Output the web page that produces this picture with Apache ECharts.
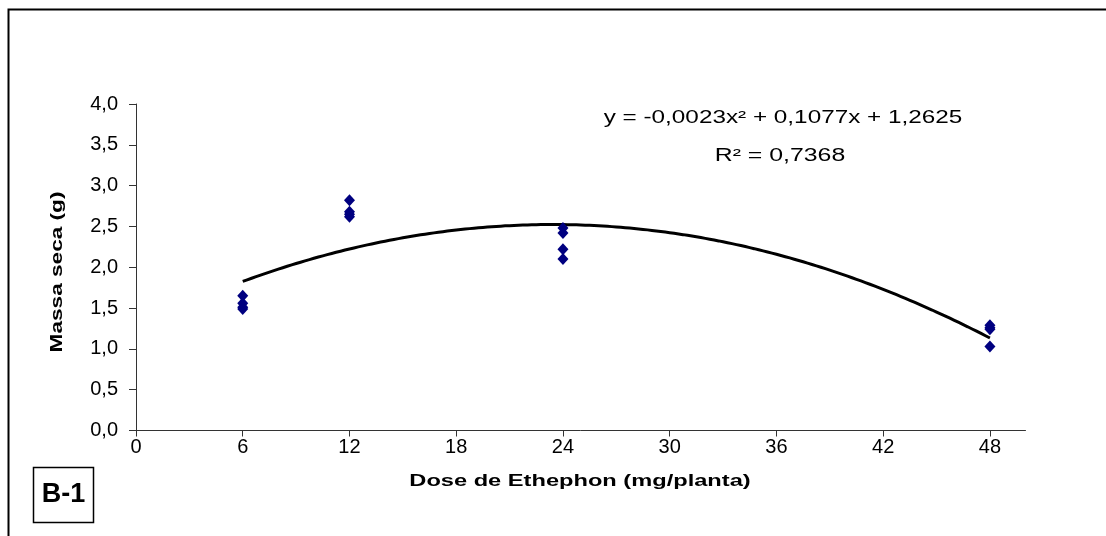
<!DOCTYPE html>
<html>
<head>
<meta charset="utf-8">
<script src="https://cdn.jsdelivr.net/npm/echarts@6/dist/echarts.min.js"></script>
<style>
  html, body { margin: 0; padding: 0; background: #fff; }
  #chart { width: 1106px; height: 536px; }
</style>
</head>
<body>
<div id="chart"></div>
<script>
// Dry mass per plant at each Ethephon dose (four replicates per dose)
const doses = [6, 6, 6, 6, 12, 12, 12, 12, 24, 24, 24, 24, 48, 48, 48, 48];
const masses = [1.65, 1.56, 1.51, 1.49, 2.82, 2.68, 2.65, 2.62, 2.48, 2.42, 2.22, 2.10, 1.29, 1.26, 1.24, 1.03];

// Quadratic trend fitted to the replicates: y = a*x^2 + b*x + c
const trendCoef = { a: -0.0023, b: 0.1077, c: 1.2625 };
const trendRange = [6, 48];
const trendLabel = 'y = -0,0023x² + 0,1077x + 1,2625';
const r2Label = 'R² = 0,7368';

const xTicks = [0, 6, 12, 18, 24, 30, 36, 42, 48];
const yTicks = [0, 0.5, 1, 1.5, 2, 2.5, 3, 3.5, 4];

const xTitle = 'Dose de Ethephon (mg/planta)';
const yTitle = 'Massa seca (g)';
const panelTag = 'B-1';

const scatterData = doses.map((d, i) => [d, masses[i]]);
const trendData = [];
for (let x = trendRange[0]; x <= trendRange[1] + 1e-9; x += 0.25) {
  trendData.push([x, trendCoef.a * x * x + trendCoef.b * x + trendCoef.c]);
}

const FONT = '"Liberation Sans", Arial, sans-serif';
const chart = echarts.init(document.getElementById('chart'), null, { renderer: 'canvas' });

chart.setOption({
  animation: false,
  backgroundColor: '#ffffff',
  grid: { left: 136, right: 80.5, top: 104, bottom: 105.5, containLabel: false },
  xAxis: {
    type: 'value',
    min: 0, max: 50, interval: 6,
    axisLine: { lineStyle: { color: '#333', width: 1 } },
    axisTick: { inside: false, length: 6, lineStyle: { color: '#333' }, customValues: xTicks },
    axisLabel: { customValues: xTicks, margin: 7, fontFamily: FONT, fontSize: 20, color: '#000' },
    splitLine: { show: false }
  },
  yAxis: {
    type: 'value',
    min: 0, max: 4, interval: 0.5,
    axisLine: { show: true, lineStyle: { color: '#333', width: 1 } },
    axisTick: { show: true, inside: false, length: 7, lineStyle: { color: '#333' }, customValues: yTicks },
    axisLabel: {
      customValues: yTicks,
      margin: 18,
      fontFamily: FONT, fontSize: 20, color: '#000',
      formatter: v => v.toFixed(1).replace('.', ',')
    },
    splitLine: { show: false }
  },
  series: [
    {
      type: 'line',
      data: trendData,
      showSymbol: false,
      smooth: false,
      lineStyle: { color: '#000', width: 3 },
      z: 2
    },
    {
      type: 'scatter',
      data: scatterData,
      symbol: 'diamond',
      symbolSize: [11, 12],
      itemStyle: { color: '#000080', opacity: 1 },
      z: 3
    }
  ],
  graphic: [
    {
      // frame of the chart area (top and left edges)
      type: 'polyline',
      shape: { points: [[8.5, 600], [8.5, 9.5], [1200, 9.5]] },
      style: { stroke: '#000', lineWidth: 2, fill: null },
      silent: true
    },
    {
      type: 'text',
      x: 580, y: 481,
      scaleX: 1.39,
      style: { text: xTitle, font: 'bold 17px ' + FONT, fill: '#000', align: 'center', verticalAlign: 'middle' }
    },
    {
      type: 'text',
      x: 57, y: 272,
      rotation: Math.PI / 2,
      scaleX: 1.33,
      style: { text: yTitle, font: 'bold 17px ' + FONT, fill: '#000', align: 'center', verticalAlign: 'middle' }
    },
    {
      type: 'text',
      x: 783, y: 118,
      scaleX: 1.35,
      style: { text: trendLabel, font: '18px ' + FONT, fill: '#000', align: 'center', verticalAlign: 'middle' }
    },
    {
      type: 'text',
      x: 780, y: 156,
      scaleX: 1.38,
      style: { text: r2Label, font: '18px ' + FONT, fill: '#000', align: 'center', verticalAlign: 'middle' }
    },
    {
      type: 'group',
      children: [
        {
          type: 'rect',
          shape: { x: 33.5, y: 467.5, width: 60, height: 55 },
          style: { fill: '#fff', stroke: '#000', lineWidth: 1.5 }
        },
        {
          type: 'text',
          x: 63.5, y: 495,
          style: { text: panelTag, font: 'bold 27px ' + FONT, fill: '#000', align: 'center', verticalAlign: 'middle' }
        }
      ]
    }
  ]
});
</script>
</body>
</html>
